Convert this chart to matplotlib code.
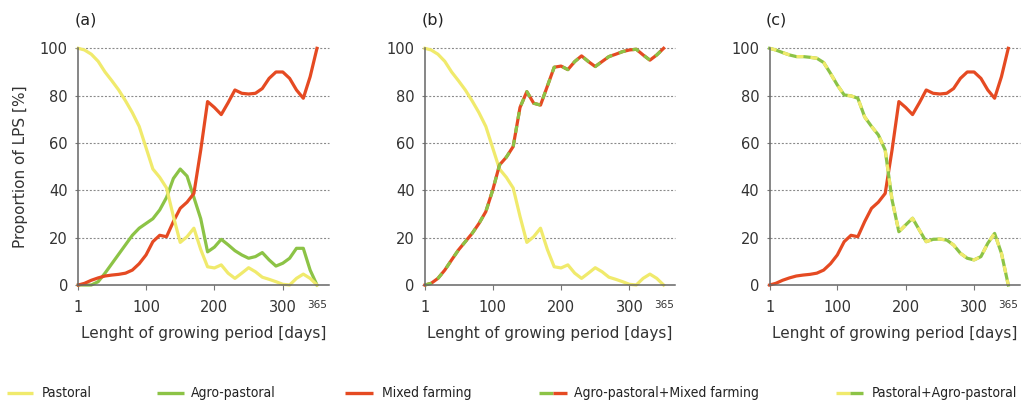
from matplotlib import pyplot as plt
from matplotlib import font_manager
from matplotlib.lines import Line2D

days = [1, 10, 20, 30, 40, 50, 60, 70, 80, 90, 100, 110, 120, 130, 140, 150, 160, 170,
        180, 190, 200, 210, 220, 230, 240, 250, 260, 270, 280, 290, 300, 310, 320, 330, 340, 350]

pastoral = [100, 99.3, 97.5, 94.5, 90, 86.3, 82.4, 77.8, 72.8, 67, 58, 49, 45.5, 41, 29, 18, 20.4, 24,
            15, 7.7, 7.2, 8.5, 5, 2.8, 5, 7.3, 5.6, 3.3, 2.4, 1.4, 0.3, 0, 2.8, 4.6, 2.8, 0]
agro_pastoral = [0, 0, 0, 1.4, 5, 9, 13, 17, 21, 24, 26, 28, 31.7, 37, 45, 49, 46, 37,
                 28, 14, 16, 19.3, 17, 14.5, 12.7, 11.3, 12, 13.7, 10.6, 8, 9.2, 11.3, 15.5, 15.5, 6.3, 0]
mixed = [0, 0.7, 2, 3, 3.8, 4.2, 4.5, 5, 6.3, 9, 12.7, 18.3, 21, 20.4, 26.8, 32.4, 35, 38.7,
         57, 77.5, 75, 72, 77, 82.4, 81, 80.7, 81, 83, 87.3, 90, 90, 87.3, 82.4, 78.9, 88, 100]
agro_mixed = [0, 0.7, 2.8, 6.3, 10.6, 14.8, 18.3, 21.8, 26, 31, 40, 50.7, 54, 58.5, 75, 81.7, 76.8, 76,
              84, 92, 92.5, 91, 94.4, 96.8, 94.4, 92.3, 94.4, 96.5, 97.5, 98.6, 99.3, 99.6, 97.2, 95, 97.2, 100]
pastoral_agro = [100, 99.3, 98.2, 97.2, 96.5, 96.5, 96.2, 95.8, 94, 89.4, 84.5, 80.3, 79.9, 78.9, 71, 67, 63.4, 57,
                 36, 22.5, 25.4, 28.2, 23.2, 18.3, 19.3, 19.4, 19, 16.9, 13.4, 11.3, 10.6, 12, 17.6, 21.8, 13.4, 0]

x_ticks = [1, 100, 200, 300, 350]
x_tick_labels = ['1', '100', '200', '300', '365']
y_ticks = [0, 20, 40, 60, 80, 100]
panel_labels = ['(a)', '(b)', '(c)']

YELLOW = '#f0ea6c'
GREEN = '#8cc346'
RED = '#e54a22'
LW = 2.3

# narrow font for the legend if one is around, else Liberation Sans (narrower than DejaVu)
condensed = [f for f in font_manager.fontManager.ttflist
             if f.name == 'DejaVu Sans' and f.stretch == 'condensed']
if condensed:
    legend_kw = dict(family='DejaVu Sans', fontstretch='condensed')
else:
    legend_kw = dict(family='Liberation Sans')


def style_axes(ax, label):
    ax.set_xlim(1, 367)
    ax.set_ylim(0, 100)
    for side in ['top', 'right']:
        ax.spines[side].set_visible(False)
    for side in ['left', 'bottom']:
        ax.spines[side].set_color('#666666')
        ax.spines[side].set_linewidth(1.1)
    ax.set_yticks(y_ticks)
    ax.set_xticks(x_ticks)
    ax.set_xticklabels(x_tick_labels)
    ax.tick_params(axis='x', length=3.5, color='#777777', pad=7, labelsize=10.5, labelcolor='#333333')
    ax.tick_params(axis='y', length=2.5, color='#777777', pad=5, labelsize=10.5, labelcolor='#333333')
    ax.xaxis.get_major_ticks()[-1].tick1line.set_visible(False)
    ax.get_xticklabels()[-1].set_fontsize(7.5)
    for y in y_ticks[1:]:
        ax.axhline(y, color='#8a8a8a', lw=0.8, linestyle=(0, (1.8, 1.6)), zorder=0, clip_on=False)
    ax.set_xlabel('Lenght of growing period [days]', fontsize=11, color='#333333', labelpad=8)
    ax.text(-0.015, 1.12, label, transform=ax.transAxes, fontsize=11.5, color='#222222',
            ha='left', va='center')


fig = plt.figure(figsize=(10.24, 4.05), dpi=100)
lefts = [0.0765, 0.415, 0.7516]
axes = [fig.add_axes([l, 0.2963, 0.2444, 0.5844]) for l in lefts]

ax = axes[0]
ax.plot(days, agro_pastoral, color=GREEN, lw=LW, clip_on=False, solid_joinstyle='round')
ax.plot(days, mixed, color=RED, lw=LW, clip_on=False, solid_joinstyle='round')
ax.plot(days, pastoral, color=YELLOW, lw=LW, clip_on=False, solid_joinstyle='round')

ax = axes[1]
ax.plot(days, pastoral, color=YELLOW, lw=LW, clip_on=False, solid_joinstyle='round')
ax.plot(days, agro_mixed, color=RED, lw=LW, clip_on=False, solid_joinstyle='round')
ax.plot(days, agro_mixed, color=GREEN, lw=LW, clip_on=False, linestyle=(0, (2.2, 2.2)))

ax = axes[2]
ax.plot(days, mixed, color=RED, lw=LW, clip_on=False, solid_joinstyle='round')
ax.plot(days, pastoral_agro, color=GREEN, lw=LW, clip_on=False, solid_joinstyle='round')
ax.plot(days, pastoral_agro, color=YELLOW, lw=LW, clip_on=False, linestyle=(0, (2.2, 2.2)))

for ax, label in zip(axes, panel_labels):
    style_axes(ax, label)

fig.text(21 / 1024, 1 - 167 / 405, 'Proportion of LPS [%]', rotation=90, fontsize=11,
         color='#333333', ha='center', va='center')

# legend drawn by hand along the bottom
W, H = 1024.0, 405.0
ly = 1 - 393 / H
legend_items = [
    ('Pastoral', [(7, 33, YELLOW)], 42),
    ('Agro-pastoral', [(157, 184, GREEN)], 191),
    ('Mixed farming', [(345, 373, RED)], 382),
    ('Agro-pastoral+Mixed farming', [(539, 553, GREEN), (553, 567, RED)], 574),
    ('Pastoral+Agro-pastoral', [(836, 850, YELLOW), (850, 863, GREEN)], 872),
]
legend_texts = []
for text, segs, tx in legend_items:
    for x0, x1, c in segs:
        fig.add_artist(Line2D([x0 / W, x1 / W], [ly, ly], color=c, lw=2.4, transform=fig.transFigure,
                              solid_capstyle='butt'))
    legend_texts.append(fig.text(tx / W, ly, text, color='#222222', ha='left', va='center',
                                 fontsize=11, **legend_kw))

# shrink legend text until the last entry fits inside the figure
renderer = fig.canvas.get_renderer()
size = 11
while legend_texts[-1].get_window_extent(renderer).x1 > W - 6 and size > 7:
    size -= 0.25
    for t in legend_texts:
        t.set_fontsize(size)

plt.savefig('out.png', dpi=100)
